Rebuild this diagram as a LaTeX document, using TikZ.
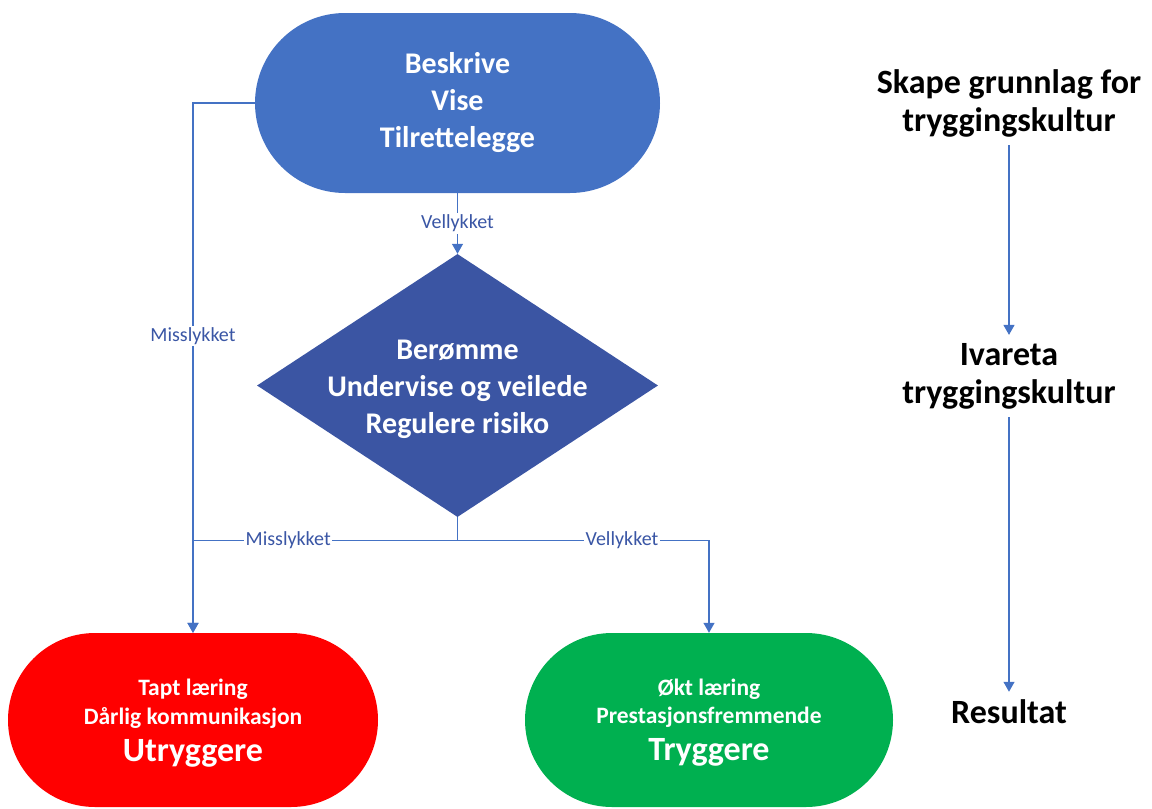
\documentclass[tikz,border=0pt]{standalone}
\usepackage{fontspec}
\setmainfont{Carlito}
\usetikzlibrary{shapes.geometric,arrows.meta}
\definecolor{topblue}{HTML}{4472C4}
\definecolor{diablue}{HTML}{3B55A3}
\definecolor{linkblue}{HTML}{4472C4}
\definecolor{labblue}{HTML}{3A56A5}
\definecolor{okgreen}{HTML}{00B050}
\definecolor{badred}{HTML}{FF0000}
\newcommand{\smallline}{\fontsize{23.5}{30}\selectfont\bfseries}
\newcommand{\bigline}{\fontsize{34}{30}\selectfont\bfseries}
\begin{document}
\begin{tikzpicture}[x=1pt,y=-1pt,
  conn/.style={draw=linkblue, line width=1.3pt},
  arr/.style={conn, -{Triangle[width=11pt,length=10pt]}},
  lab/.style={fill=white, text=labblue, inner sep=1.5pt, font=\fontsize{20}{22}\selectfont},
  stadium/.style={rectangle, draw=none, text=white, align=center, inner sep=0pt},
  result/.style={stadium, minimum height=174pt, rounded corners=87pt, text depth=0pt},
  big/.style={font=\fontsize{30}{37}\selectfont\bfseries},
  side/.style={text=black, font=\fontsize{34}{38}\selectfont\bfseries, align=center, inner sep=8pt}
]
\useasboundingbox (0,0) rectangle (1152,809);
\node[stadium, big, fill=topblue, minimum width=405pt, minimum height=180pt, rounded corners=90pt] (top) at (457.5,103) {Beskrive\\Vise\\Tilrettelegge};
\node[diamond, fill=diablue, minimum width=401pt, minimum height=263pt, inner sep=0pt,
  label={[big, text=white, align=center, yshift=-4pt]center:{Berømme\\Undervise og veilede\\Regulere risiko}}] (dia) at (457.5,385.5) {};
\node[result, fill=badred, minimum width=370pt] (bad) at (193,720)
  {\smallline Tapt læring\\[7pt]\smallline Dårlig kommunikasjon\\[10pt]\bigline Utryggere};
\node[result, fill=okgreen, minimum width=368pt] (good) at (709,720)
  {\smallline Økt læring\\[7pt]\smallline Prestasjonsfremmende\\[10pt]\bigline Tryggere};
\node[side] (skape) at (1009,103) {Skape grunnlag for\\tryggingskultur};
\node[side] (ivareta) at (1009,376) {Ivareta\\tryggingskultur};
\node[side] (res) at (1009,712) {Resultat};

\coordinate (split) at ([yshift=-23pt]dia.south);
\draw[arr] (top.south) -- node[lab]{Vellykket} (dia.north);
\draw[arr] (top.west) -| node[lab, pos=0.72]{Misslykket} (bad.north);
\draw[conn] (dia.south) -- (split);
\draw[arr] (split) -| node[lab, pos=0.32]{Misslykket} (bad.north);
\draw[arr] (split) -| node[lab, pos=0.327]{Vellykket} (good.north);
\draw[arr] (skape) -- (ivareta);
\draw[arr] (ivareta) -- (res);
\end{tikzpicture}
\end{document}
